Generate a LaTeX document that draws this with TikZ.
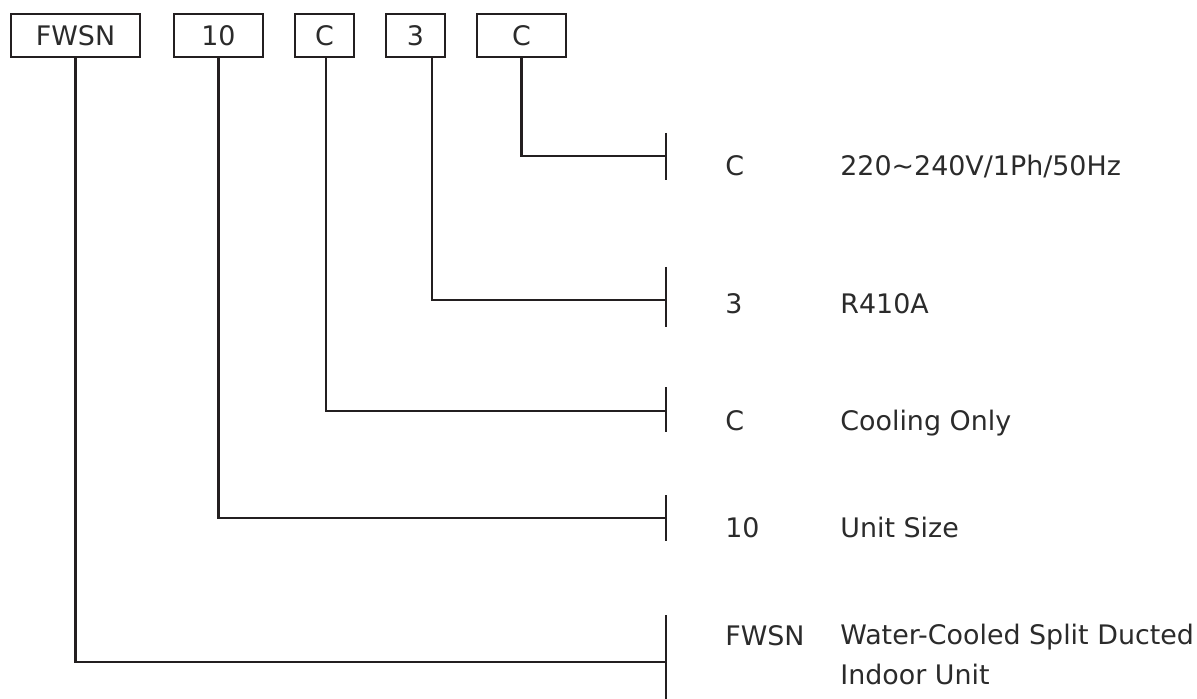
\documentclass[tikz,border=0pt]{standalone}
\usepackage{fontspec}
\setmainfont{DejaVu Sans}
\usepackage{xcolor}
\usepackage{tikz}
\usetikzlibrary{calc,positioning}
\definecolor{inkgray}{HTML}{231F20}
\definecolor{textgray}{HTML}{2B2B2B}

\begin{document}
\begin{tikzpicture}[
  x=1cm,
  y=1cm,
  font=\fontsize{15.3}{22.2}\selectfont,
  codebox/.style={draw=inkgray, line width=1.4pt, minimum height=0.86cm,
    inner sep=0pt, text=textgray},
  link/.style={draw=inkgray, line width=1.3pt},
  tee/.style={draw=inkgray, line width=1.3pt},
  keytext/.style={anchor=base west, inner sep=0pt, text=textgray},
  desctext/.style={anchor=base west, inner sep=0pt, text=textgray, align=left}
]
\useasboundingbox (0,0) rectangle (23.94,-13.98);

% code boxes
\node[codebox, minimum width=2.58cm] (bfwsn) at (1.51,-0.71) {FWSN};
\node[codebox, minimum width=1.78cm] (bsize) at (4.37,-0.71) {10};
\node[codebox, minimum width=1.18cm] (bcool) at (6.49,-0.71) {C};
\node[codebox, minimum width=1.18cm] (bref) at (8.31,-0.71) {3};
\node[codebox, minimum width=1.78cm] (bpwr) at (10.43,-0.71) {C};

% tee points on the right
\coordinate (tpwr) at (13.32,-3.12);
\coordinate (tref) at (13.32,-6.00);
\coordinate (tcool) at (13.32,-8.22);
\coordinate (tsize) at (13.32,-10.36);
\coordinate (tfwsn) at (13.32,-13.24);

\draw[link] (bpwr.south) |- (tpwr);
\draw[link] ([xshift=0.33cm]bref.south) |- (tref);
\draw[link] ([xshift=0.03cm]bcool.south) |- (tcool);
\draw[link] (bsize.south) |- (tsize);
\draw[link] (bfwsn.south) |- (tfwsn);

\draw[tee] ($(tpwr)+(0,0.46)$) -- ($(tpwr)+(0,-0.48)$);
\draw[tee] ($(tref)+(0,0.66)$) -- ($(tref)+(0,-0.54)$);
\draw[tee] ($(tcool)+(0,0.48)$) -- ($(tcool)+(0,-0.42)$);
\draw[tee] ($(tsize)+(0,0.46)$) -- ($(tsize)+(0,-0.46)$);
\draw[tee] ($(tfwsn)+(0,0.94)$) -- ($(tfwsn)+(0,-0.74)$);

% legend texts
\node[keytext] (kpwr) at (14.50,-3.52) {C};
\node[desctext] (dpwr) at (16.80,-3.52) {220\textasciitilde240V/1Ph/50Hz};
\node[keytext] (kref) at (14.50,-6.26) {3};
\node[desctext] (dref) at (16.80,-6.26) {R410A};
\node[keytext] (kcool) at (14.50,-8.60) {C};
\node[desctext] (dcool) at (16.80,-8.60) {Cooling Only};
\node[keytext] (ksize) at (14.50,-10.74) {10};
\node[desctext] (dsize) at (16.80,-10.74) {Unit Size};
\node[keytext] (kfwsn) at (14.50,-12.90) {FWSN};
\node[desctext] (dfwsn) at (16.80,-13.68) {Water-Cooled Split Ducted\\Indoor Unit};

\end{tikzpicture}
\end{document}
